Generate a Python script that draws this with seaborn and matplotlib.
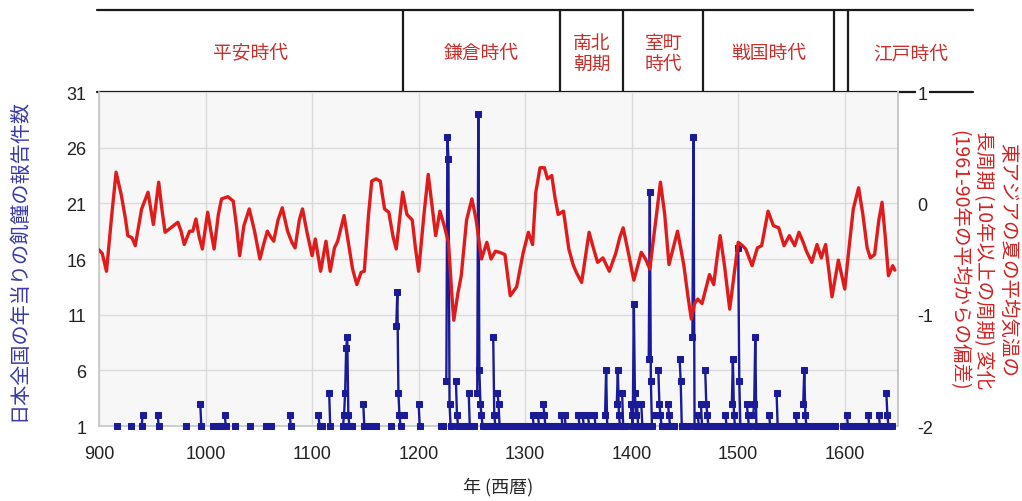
import numpy as np
import pandas as pd
import matplotlib
matplotlib.use("Agg")
import matplotlib.pyplot as plt
import seaborn as sns

# famine reports per year (Japan), years without reports are absent
famine_years = [
    917, 930, 940, 941, 955, 956, 982, 995, 996, 1007, 1011, 1012, 1015, 1018, 1019,
    1028, 1042, 1057, 1061, 1079, 1080, 1106, 1107, 1109, 1116, 1117,
    1129, 1130, 1131, 1132, 1133, 1134, 1135, 1137, 1148, 1149, 1152, 1156, 1160,
    1174, 1179, 1180, 1181, 1182, 1183, 1186, 1200, 1201, 1221, 1223,
    1226, 1227, 1228, 1229, 1230, 1235, 1236, 1237, 1241, 1244, 1247, 1248, 1252,
    1255, 1256, 1257, 1258, 1259, 1260, 1263, 1266, 1270, 1271, 1272, 1274, 1275, 1276,
    1279, 1283, 1286, 1290, 1295, 1298, 1301, 1304, 1307, 1308, 1312, 1313,
    1317, 1318, 1319, 1322, 1325, 1328, 1331, 1334, 1335, 1337, 1338, 1341, 1344, 1347,
    1350, 1351, 1354, 1355, 1359, 1360, 1363, 1365, 1366, 1369, 1372, 1375, 1376, 1377,
    1380, 1383, 1386, 1387, 1388, 1389, 1391, 1392, 1395, 1399, 1400, 1401, 1402, 1403,
    1404, 1405, 1406, 1409, 1410, 1413, 1416, 1417, 1418, 1419, 1421, 1425, 1426, 1427,
    1428, 1431, 1434, 1435, 1436, 1440, 1445, 1446, 1447, 1450, 1453, 1457, 1458, 1459,
    1462, 1463, 1465, 1466, 1469, 1470, 1471, 1472, 1476, 1480, 1484, 1488, 1489, 1492,
    1494, 1495, 1496, 1497, 1500, 1501, 1502, 1505, 1508, 1509, 1510, 1514, 1515, 1516,
    1517, 1521, 1525, 1529, 1530, 1533, 1536, 1537, 1540, 1544, 1548, 1551, 1554, 1555,
    1558, 1561, 1562, 1563, 1564, 1567, 1570, 1573, 1576, 1580, 1583, 1587, 1591, 1598,
    1602, 1603, 1606, 1610, 1614, 1618, 1622, 1623, 1626, 1629, 1632, 1633, 1636, 1639,
    1640, 1641, 1644,
]
famine_counts = [
    1, 1, 1, 2, 2, 1, 1, 3, 1, 1, 1, 1, 1, 2, 1,
    1, 1, 1, 1, 2, 1, 2, 1, 1, 4, 1,
    1, 2, 4, 8, 9, 2, 1, 1, 3, 1, 1, 1, 1,
    1, 10, 13, 4, 2, 1, 2, 3, 1, 1, 1,
    5, 27, 25, 3, 1, 5, 2, 1, 1, 1, 4, 1, 1,
    4, 29, 6, 3, 2, 1, 1, 1, 9, 2, 1, 4, 3, 1,
    1, 1, 1, 1, 1, 1, 1, 1, 2, 1, 2, 1,
    3, 2, 1, 1, 1, 1, 1, 2, 1, 2, 1, 1, 1, 1,
    2, 1, 2, 1, 2, 1, 1, 2, 1, 1, 1, 2, 6, 1,
    1, 1, 3, 6, 2, 1, 4, 1, 1, 3, 2, 1, 12, 4,
    2, 3, 1, 3, 1, 1, 7, 22, 5, 1, 2, 6, 3, 2,
    1, 1, 3, 2, 1, 1, 7, 5, 1, 1, 1, 9, 27, 1,
    2, 1, 3, 1, 6, 3, 2, 1, 1, 1, 1, 2, 1, 1,
    3, 7, 2, 1, 17, 5, 1, 1, 3, 2, 1, 2, 3, 9,
    1, 1, 1, 2, 1, 1, 4, 1, 1, 1, 1, 1, 2, 1,
    1, 3, 6, 2, 1, 1, 1, 1, 1, 1, 1, 1, 1, 1,
    2, 1, 1, 1, 1, 1, 2, 1, 1, 1, 2, 1, 1, 4,
    2, 1, 1,
]

# East Asian summer temperature, long-period anomaly (deg C)
temp_years = [
    899, 903, 907, 912, 916, 921, 925, 927, 931, 934, 940, 946, 951, 956, 959, 962, 966,
    970, 974, 977, 980, 985, 988, 991, 994, 997, 1002, 1005, 1008, 1012, 1015, 1021,
    1026, 1029, 1032, 1036, 1041, 1046, 1051, 1055, 1058, 1061, 1064, 1068, 1072, 1077,
    1081, 1084, 1088, 1091, 1095, 1100, 1103, 1108, 1113, 1117, 1121, 1124, 1130, 1134,
    1138, 1142, 1146, 1149, 1153, 1156, 1160, 1164, 1168, 1172, 1176, 1179, 1185, 1189,
    1194, 1197, 1200, 1205, 1209, 1213, 1216, 1220, 1224, 1228, 1231, 1233, 1237, 1240,
    1245, 1250, 1254, 1259, 1264, 1268, 1272, 1276, 1281, 1286, 1292, 1298, 1303, 1307,
    1310, 1314, 1318, 1321, 1325, 1328, 1331, 1336, 1341, 1345, 1348, 1353, 1357, 1360,
    1364, 1368, 1373, 1379, 1385, 1389, 1392, 1397, 1402, 1406, 1409, 1413, 1417, 1422,
    1427, 1431, 1435, 1439, 1443, 1446, 1449, 1453, 1456, 1459, 1462, 1466, 1470, 1473,
    1477, 1480, 1483, 1487, 1492, 1496, 1500, 1504, 1507, 1513, 1518, 1522, 1528, 1533,
    1538, 1543, 1548, 1553, 1557, 1561, 1564, 1569, 1574, 1578, 1582, 1585, 1588, 1594,
    1600, 1604, 1608, 1613, 1617, 1621, 1624, 1628, 1632, 1635, 1638, 1641, 1645, 1647,
]
temp_vals = [
    -0.41, -0.45, -0.61, -0.10, 0.28, 0.07, -0.15, -0.29, -0.31, -0.38, -0.05, 0.10, -0.19,
    0.19, -0.05, -0.26, -0.23, -0.20, -0.17, -0.25, -0.37, -0.25, -0.25, -0.14, -0.30, -0.41,
    -0.08, -0.25, -0.41, -0.10, 0.04, 0.06, 0.02, -0.20, -0.47, -0.20, -0.05, -0.25, -0.50,
    -0.35, -0.25, -0.30, -0.34, -0.15, -0.04, -0.25, -0.35, -0.40, -0.15, -0.05, -0.25, -0.47,
    -0.32, -0.61, -0.34, -0.61, -0.40, -0.34, -0.11, -0.35, -0.59, -0.73, -0.62, -0.61, -0.10,
    0.20, 0.22, 0.20, -0.05, -0.08, -0.30, -0.41, 0.10, -0.10, -0.15, -0.40, -0.61, -0.10,
    0.26, -0.05, -0.29, -0.07, -0.20, -0.35, -0.80, -1.05, -0.80, -0.65, -0.15, 0.04, -0.15,
    -0.50, -0.35, -0.50, -0.43, -0.44, -0.46, -0.83, -0.75, -0.45, -0.26, -0.37, 0.10, 0.32,
    0.32, 0.22, 0.25, 0.05, -0.10, -0.07, -0.41, -0.55, -0.62, -0.71, -0.45, -0.26, -0.40,
    -0.53, -0.49, -0.61, -0.45, -0.30, -0.22, -0.45, -0.69, -0.55, -0.44, -0.50, -0.59, -0.20,
    0.19, -0.10, -0.55, -0.40, -0.25, -0.40, -0.56, -0.85, -1.04, -0.90, -0.86, -0.90, -0.75,
    -0.64, -0.73, -0.50, -0.29, -0.55, -0.95, -0.65, -0.35, -0.38, -0.41, -0.56, -0.40, -0.38,
    -0.07, -0.20, -0.22, -0.38, -0.29, -0.38, -0.26, -0.35, -0.43, -0.53, -0.37, -0.49, -0.37,
    -0.60, -0.84, -0.51, -0.77, -0.40, -0.05, 0.14, -0.10, -0.40, -0.49, -0.46, -0.15, 0.01,
    -0.30, -0.65, -0.56, -0.60,
]

# historical periods shown in the header band
period_bounds = [900, 1185, 1333, 1392, 1467, 1590, 1603, 1720]
period_names = ["平安時代", "鎌倉時代", "南北\n朝期", "室町\n時代", "戦国時代", "", "江戸時代"]

left_ticks = [1, 6, 11, 16, 21, 26, 31]
right_ticks = [-2, -1, 0, 1]
year_ticks = [900, 1000, 1100, 1200, 1300, 1400, 1500, 1600]

BLUE = "#1b1b98"
RED = "#e01b1b"
HEAD_RED = "#c6302c"

sns.set_theme(style="whitegrid")
plt.rcParams["font.family"] = ["Liberation Sans", "Noto Sans CJK JP", "DejaVu Sans"]
plt.rcParams["axes.unicode_minus"] = False
cjk = ["Noto Sans CJK JP", "DejaVu Sans"]

fig = plt.figure(figsize=(10.22, 5.02), dpi=100)
L, R, B, T = 0.0969, 0.8787, 0.1494, 0.8147
ax = fig.add_axes([L, B, R - L, T - B])
ax.set_facecolor("#f7f7f7")

df = pd.DataFrame({"year": famine_years, "count": famine_counts})
df["seg"] = (df["year"].diff() != 1).cumsum()
for seg, grp in df.groupby("seg"):
    sns.lineplot(data=grp, x="year", y="count", ax=ax, color=BLUE, lw=1.7,
                 marker="s", markersize=5, markeredgecolor=BLUE, clip_on=False,
                 zorder=3)

ax.set_xlim(900, 1650)
ax.set_ylim(1, 31)
ax.set_xticks(year_ticks)
ax.set_yticks(left_ticks)
ax.grid(True, color="#dadada", lw=1)
ax.tick_params(axis="both", length=0, labelsize=13, colors="#222222")
ax.tick_params(axis="x", pad=14)
ax.tick_params(axis="y", pad=9)
for s in ["left", "right", "bottom"]:
    ax.spines[s].set_color("#c8c8c8")
ax.spines["top"].set_visible(False)
ax.set_xlabel("年 (西暦)", fontsize=13, family=cjk, labelpad=10)
ax.set_ylabel("")

ax2 = ax.twinx()
sns.lineplot(x=temp_years, y=temp_vals, ax=ax2, color=RED, lw=2.4)
ax2.set_ylim(-2, 1)
ax2.set_yticks(right_ticks)
ax2.grid(False)
ax2.tick_params(axis="y", length=0, labelsize=13, pad=14, colors="#222222")
for s in ["left", "top", "bottom"]:
    ax2.spines[s].set_visible(False)
ax2.spines["right"].set_color("#c8c8c8")
for lab in ax2.get_yticklabels():
    lab.set_bbox(dict(facecolor="white", edgecolor="none", pad=1))

# header band with period names
hdr = fig.add_axes([L, T, R - L, 0.978 - T])
hdr.set_zorder(-1)
hdr.set_xlim(ax.get_xlim())
hdr.set_ylim(0, 1)
hdr.axis("off")
for yy in [0, 1]:
    hdr.plot([period_bounds[0] - 2, period_bounds[-1]], [yy, yy], color="#1a1a1a",
             lw=1.6, clip_on=False)
for b in period_bounds[1:-1]:
    hdr.plot([b, b], [0, 1], color="#1a1a1a", lw=1.6, clip_on=False)
for a, b, name in zip(period_bounds[:-1], period_bounds[1:], period_names):
    hdr.text((a + b) / 2, 0.48, name, ha="center", va="center", fontsize=13.5,
             color=HEAD_RED, family=cjk, linespacing=1.0, clip_on=False)

fig.text(0.018, 0.482, "日本全国の年当りの飢饉の報告件数", rotation=90, ha="center",
         va="center", fontsize=14.5, color="#3a3aa8", family=cjk)
fig.text(0.962, 0.482,
         "東アジアの夏の平均気温の\n長周期 (10年以上の周期) 変化\n(1961-90年の平均からの偏差)",
         rotation=270, ha="center", va="center", multialignment="center",
         fontsize=14, color="#d42222", family=cjk, linespacing=1.25)

fig.savefig("out.png", dpi=100)
